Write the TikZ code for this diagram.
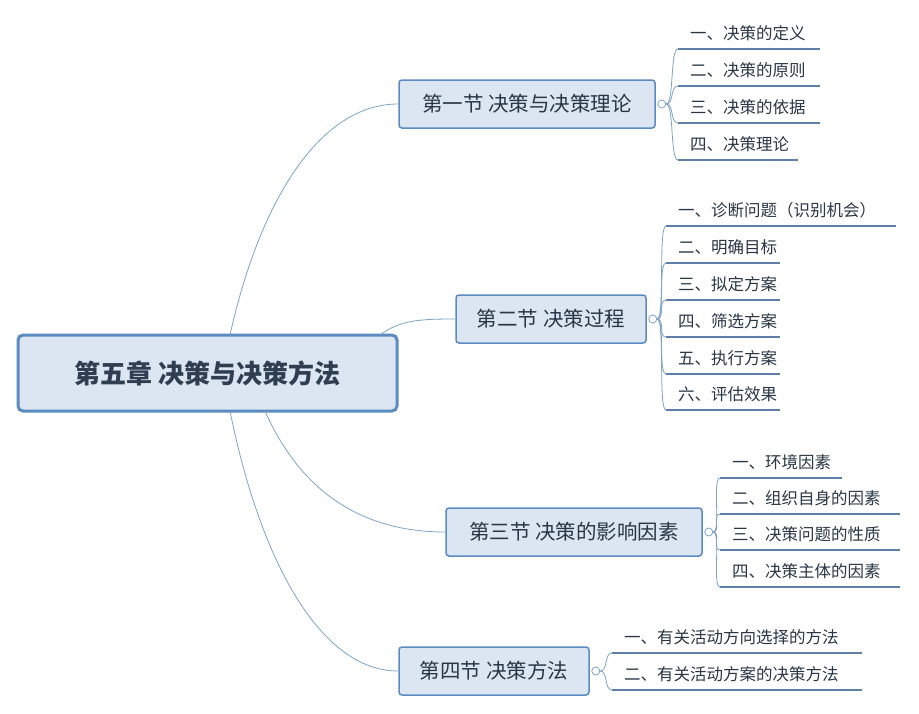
\documentclass[tikz,border=0pt]{standalone}
\usepackage{fontspec}
\setmainfont{Noto Sans CJK SC}
\usetikzlibrary{calc}
\definecolor{boxfill}{HTML}{DCE6F2}
\definecolor{boxline}{HTML}{5B8BC0}
\definecolor{conn}{HTML}{7FA3C9}
\definecolor{under}{HTML}{5D7FA8}
\definecolor{txt}{HTML}{2A3645}
\tikzset{
  sec/.style={draw=boxline,fill=boxfill,rounded corners=3pt,line width=1.5pt,font=\fontsize{20.5}{20}\selectfont,text=txt,minimum height=48pt,inner xsep=8pt},
  leafbox/.style={anchor=south west,font=\fontsize{16.5}{17}\selectfont,text=txt,inner sep=0pt,inner xsep=12pt,minimum height=32pt,align=left},
  uline/.style={draw=under,line width=2.5pt},
  cn/.style={draw=conn,line width=0.8pt},
  knob/.style={circle,draw=conn,fill=white,line width=0.8pt,inner sep=0pt,minimum size=8pt}
}
\begin{document}
\begin{tikzpicture}[x=1pt,y=-1pt]
\useasboundingbox[fill=white] (0,0) rectangle (919,713);
\node[draw=boxline,fill=boxfill,rounded corners=5pt,line width=3pt,minimum width=379pt,minimum height=76pt,text=txt!90!boxline,font=\fontsize{26}{26}\selectfont\bfseries] (root) at (207.5,373) {第五章 决策与决策方法};
\node[sec,minimum width=256pt] (s1) at (527,104) {第一节 决策与决策理论};
\node[sec,minimum width=190pt] (s2) at (551,319) {第二节 决策过程};
\node[sec,minimum width=256pt] (s3) at (574,532) {第三节 决策的影响因素};
\node[sec,minimum width=190pt] (s4) at (494,671) {第四节 决策方法};
\draw[cn] (230,335) .. controls (260,200) and (320,104) .. (s1.west);
\draw[cn] (380,335) .. controls (400,320) and (420,319) .. (s2.west);
\draw[cn] (265,411) .. controls (300,490) and (360,532) .. (s3.west);
\draw[cn] (230,411) .. controls (260,560) and (320,671) .. (s4.west);
\newcommand\leafrow[6]{% name, knob, x, yline, width, text
  \node[leafbox,text width=#5pt-24pt] (#1) at (#3,#4) {#6};
  \draw[uline] (#1.south west) -- (#1.south east);
  \draw[cn] (#2.east) .. controls ($(#2.east)+(8,0)$) and (#3-8,#4) .. (#1.south west);
}
\node[knob] (k1) at (s1.east) [xshift=6pt] {};
\leafrow{a1}{k1}{678}{49}{142}{一、决策的定义}
\leafrow{a2}{k1}{678}{86}{142}{二、决策的原则}
\leafrow{a3}{k1}{678}{123}{142}{三、决策的依据}
\leafrow{a4}{k1}{678}{160}{120}{四、决策理论}
\node[knob] (k2) at (s2.east) [xshift=6pt] {};
\leafrow{b1}{k2}{666}{226}{230}{一、诊断问题（识别机会）}
\leafrow{b2}{k2}{666}{263}{114}{二、明确目标}
\leafrow{b3}{k2}{666}{300}{114}{三、拟定方案}
\leafrow{b4}{k2}{666}{337}{114}{四、筛选方案}
\leafrow{b5}{k2}{666}{374}{114}{五、执行方案}
\leafrow{b6}{k2}{666}{410}{114}{六、评估效果}
\node[knob] (k3) at (s3.east) [xshift=6pt] {};
\leafrow{c1}{k3}{720}{478}{122}{一、环境因素}
\leafrow{c2}{k3}{720}{514}{180}{二、组织自身的因素}
\leafrow{c3}{k3}{720}{550}{180}{三、决策问题的性质}
\leafrow{c4}{k3}{720}{587}{180}{四、决策主体的因素}
\node[knob] (k4) at (s4.east) [xshift=6pt] {};
\leafrow{d1}{k4}{612}{653}{250}{一、有关活动方向选择的方法}
\leafrow{d2}{k4}{612}{690}{250}{二、有关活动方案的决策方法}
\end{tikzpicture}
\end{document}
